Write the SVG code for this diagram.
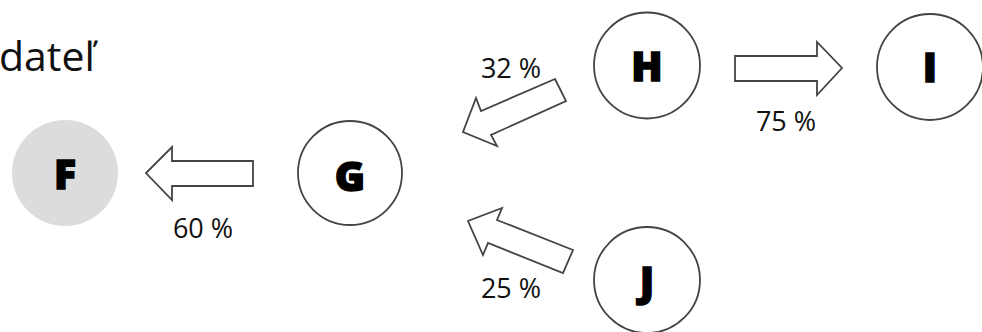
<svg xmlns="http://www.w3.org/2000/svg" width="982" height="332" viewBox="0 0 982 332">
<style>
.node{fill:#fff;stroke:#444;stroke-width:1.8}
.lbl{font-family:"Open Sans","Noto Sans","DejaVu Sans",sans-serif;font-weight:800;font-size:41px;fill:#000;stroke:#000;stroke-width:1.4;text-anchor:middle}
.arr{fill:#fff;stroke:#444;stroke-width:1.8;stroke-linejoin:miter}
.pct{font-family:"Open Sans","Noto Sans","DejaVu Sans",sans-serif;font-size:27px;fill:#111;text-anchor:middle}
.title{font-family:"Open Sans","Noto Sans","DejaVu Sans",sans-serif;font-size:41px;fill:#111}
</style>
<rect width="982" height="332" fill="#fff"/>
<text class="title" x="-1" y="71">dateľ</text>
<g id="F"><circle cx="65" cy="173" r="53" fill="#dcdcdc"/><text class="lbl" x="65" y="189">F</text></g>
<g id="G"><circle class="node" cx="350" cy="173" r="52"/><text class="lbl" x="350" y="191">G</text></g>
<g id="H"><circle class="node" cx="647" cy="65.5" r="53"/><text class="lbl" x="647" y="81">H</text></g>
<g id="I"><circle class="node" cx="930" cy="67" r="53"/><text class="lbl" x="930" y="82">I</text></g>
<g id="J"><circle class="node" cx="647" cy="280" r="53"/><text class="lbl" x="647" y="296">J</text></g>
<g id="connectors">
<polygon class="arr" points="253,161 172,161 172,147 146,173 172,200 172,186 253,186"/>
<text class="pct" x="203" y="238">60 %</text>
<polygon class="arr" points="735,56 817,56 817,42 842,68 817,95 817,81 735,81"/>
<text class="pct" x="786" y="131">75 %</text>
<polygon class="arr" points="555,79 481,111 476,98 463,132 497,146 491,135 566,101"/>
<text class="pct" x="511" y="78">32 %</text>
<polygon class="arr" points="573,250 497,220 502,208 468,221 483,255 488,243 563,273"/>
<text class="pct" x="511" y="298">25 %</text>
</g>
</svg>
